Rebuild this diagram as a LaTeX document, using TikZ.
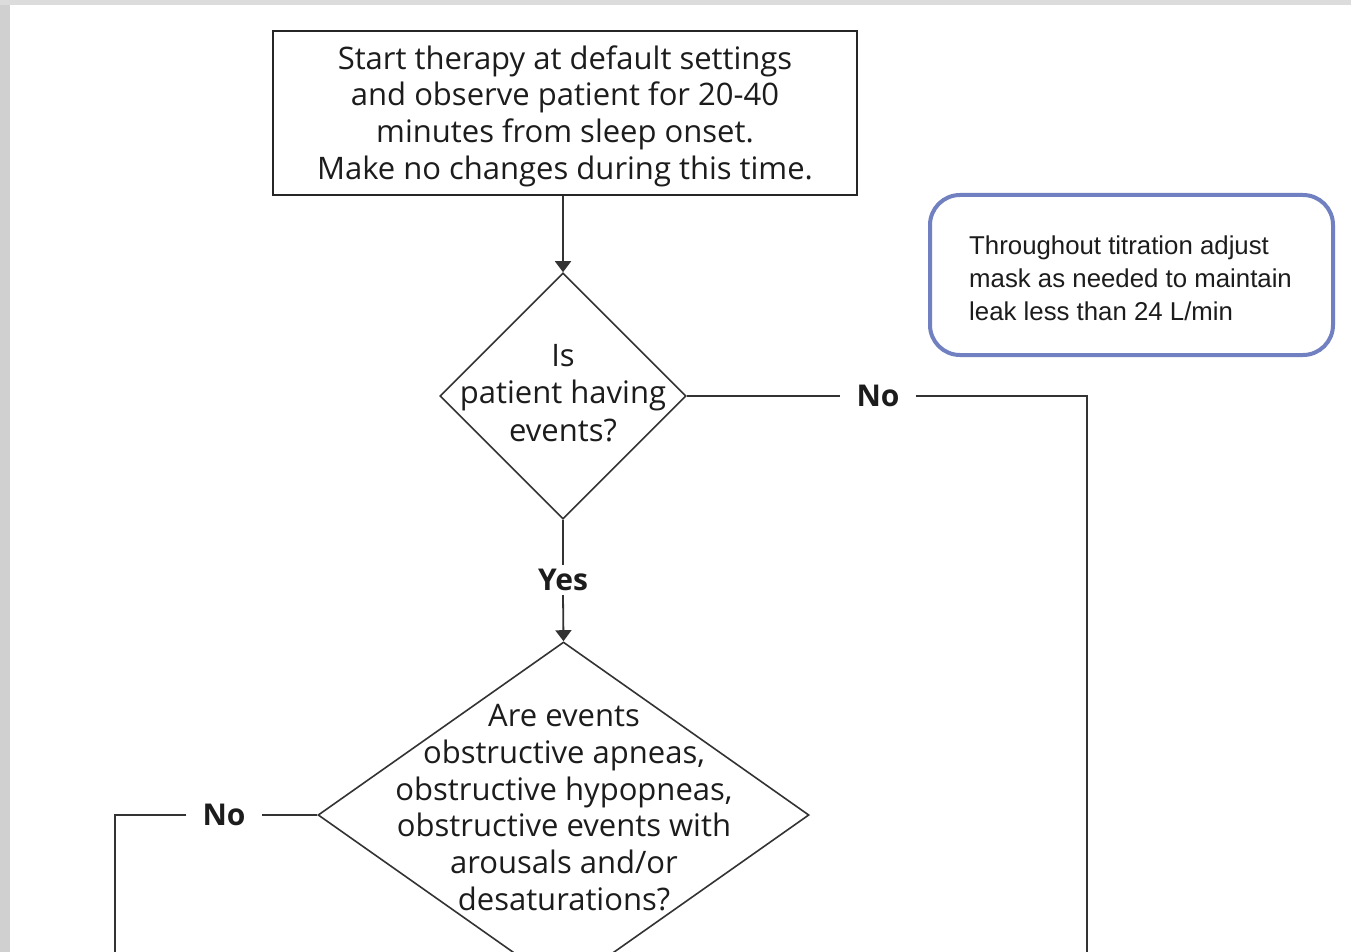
\documentclass[tikz,border=0pt]{standalone}
\usepackage{fontspec}
\setmainfont{Open Sans}
\newfontfamily\notefont{Liberation Sans}
\usetikzlibrary{shapes.geometric,arrows.meta}
\definecolor{frameL}{RGB}{208,208,208}
\definecolor{frameT}{RGB}{220,220,220}
\definecolor{ink}{RGB}{28,28,28}
\definecolor{noteblue}{RGB}{112,128,192}
\begin{document}
\begin{tikzpicture}[x=1pt,y=-1pt,
  conn/.style={draw=black!80, line width=1.8pt},
  arr/.style={conn, -{Triangle[length=11pt,width=16pt]}},
  stepbox/.style={rectangle, draw=black!85, line width=2pt, minimum width=584pt,
    minimum height=164pt, inner sep=0pt},
  decision/.style={diamond, draw=black!80, line width=1.6pt, inner sep=0pt},
  maintext/.style={text=ink, align=center, font=\fontsize{31}{36.7}\selectfont},
  answer/.style={text=ink, fill=white, inner xsep=16pt, inner ysep=4pt,
    font=\fontsize{30}{36}\selectfont\bfseries},
  notebox/.style={rectangle, rounded corners=30pt, draw=noteblue, line width=4pt,
    minimum width=403pt, minimum height=160pt},
  notetext/.style={text=ink, align=left, font=\notefont\fontsize{25.8}{33}\selectfont,
    inner sep=0pt}
]
\useasboundingbox (0,0) rectangle (1351,952);
\clip (0,0) rectangle (1351,952);
% page background and frame strips
\fill[white] (0,0) rectangle (1351,952);
\fill[frameL] (0,0) rectangle (10,952);
\fill[frameT] (0,0) rectangle (1351,5);

% start step
\node[stepbox] (start) at (565,113) {};
\node[maintext] (starttext) at (565,116)
  {Start therapy at default settings\\ and observe patient for 20-40\\ minutes from sleep onset.\\ Make no changes during this time.};

% first decision
\node[decision, minimum width=246pt, minimum height=246pt] (d1) at (563,396) {};
\node[maintext, font=\fontsize{31}{37.5}\selectfont] (d1text) at (563,393)
  {Is\\ patient having\\ events?};

% second decision
\node[decision, minimum width=491pt, minimum height=346pt] (d2) at (563.5,815) {};
\node[maintext] (d2text) at (564,807.5)
  {Are events\\ obstructive apneas,\\ obstructive hypopneas,\\ obstructive events with\\ arousals and/or\\ desaturations?};

% answer labels
\node[answer] (noR) at (878,396) {No};
\node[answer] (yes) at (563,580) {Yes};
\node[answer] (noL) at (224,815) {No};

% note box
\node[notebox] (note) at (1131.5,275) {};
\node[notetext, anchor=west] (notetext) at (969,278)
  {Throughout titration adjust\\ mask as needed to maintain\\ leak less than 24 L/min};

% free ends of the outgoing branches
\coordinate (cR) at (1087,396);
\coordinate (eR) at (1087,970);
\coordinate (cL) at (115,815);
\coordinate (eL) at (115,970);

% connectors
\draw[arr] (start.south -| d1.north) -- (d1.north);
\draw[conn] (d1.south) -- (yes.north);
\draw[arr] (yes.south) -- (d2.north);
\draw[conn] (d1.east) -- (noR.west);
\draw[conn] (noR.east) -- (cR) -- (eR);
\draw[conn] (d2.west) -- (noL.east);
\draw[conn] (noL.west) -- (cL) -- (eL);
\end{tikzpicture}
\end{document}
